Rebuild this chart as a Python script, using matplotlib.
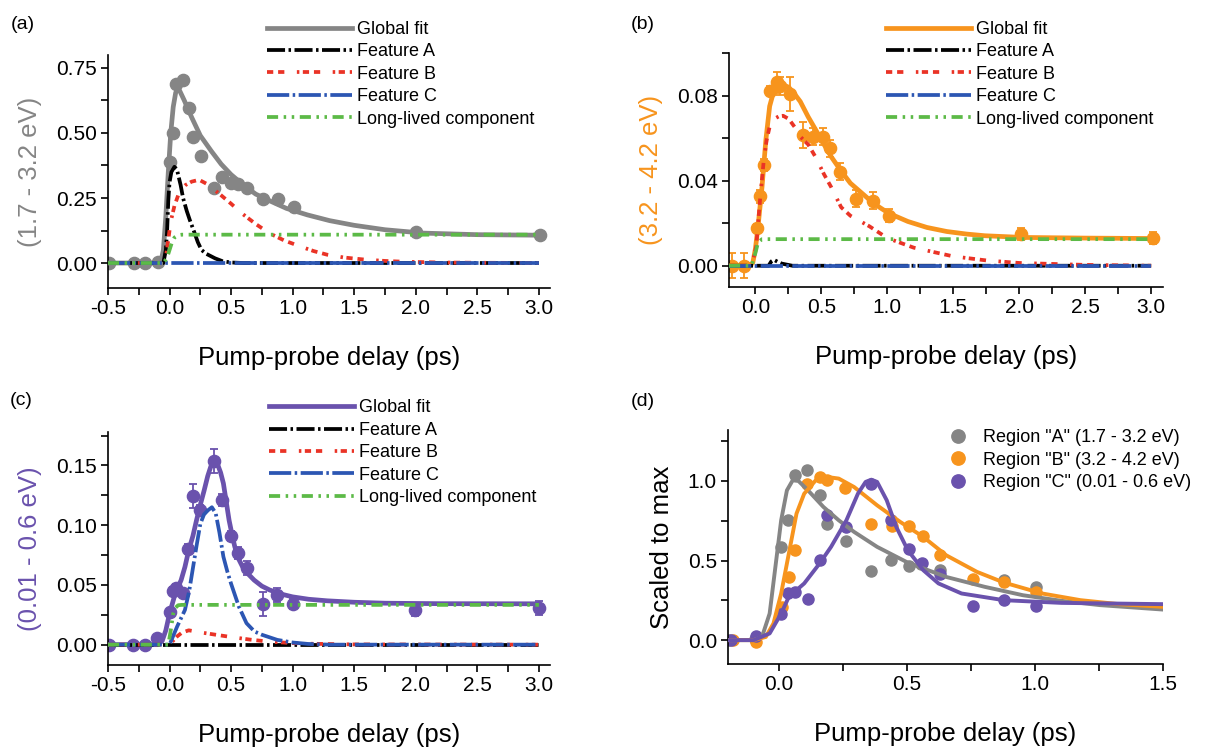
import matplotlib
matplotlib.use("Agg")
import matplotlib.pyplot as plt
from matplotlib.ticker import MultipleLocator, FormatStrFormatter

plt.rcParams["font.family"] = ["Liberation Sans", "DejaVu Sans"]
plt.rcParams["lines.scale_dashes"] = False

GRAY = "#858585"
ORANGE = "#f7941d"
PURPLE = "#6a52ad"
RED = "#ea3326"
BLUE = "#2c56b3"
GREEN = "#5cba47"

# ---------------- panel (a): 1.7 - 3.2 eV ----------------
a_pts_x = [-0.49, -0.29, -0.196, -0.093, 0.004, 0.03, 0.05, 0.11, 0.155, 0.19, 0.255,
           0.36, 0.43, 0.50, 0.556, 0.63, 0.76, 0.88, 1.01, 2.0, 3.01]
a_pts_y = [0.0, 0.0, 0.0, 0.004, 0.387, 0.50, 0.687, 0.705, 0.597, 0.485, 0.413,
           0.287, 0.332, 0.307, 0.304, 0.287, 0.245, 0.247, 0.215, 0.118, 0.107]

a_fit_x = [-0.5, -0.1, -0.07, -0.05, -0.03, -0.01, 0.01, 0.03, 0.05, 0.065, 0.08, 0.12, 0.18,
           0.25, 0.34, 0.42, 0.5, 0.6, 0.7, 0.81, 0.95, 1.12, 1.3, 1.5, 1.75, 2.06, 2.5, 3.0]
a_fit_y = [0.0, 0.0, 0.005, 0.05, 0.18, 0.35, 0.50, 0.60, 0.655, 0.67, 0.665, 0.625, 0.56,
           0.49, 0.43, 0.38, 0.34, 0.30, 0.265, 0.24, 0.21, 0.185, 0.163, 0.145, 0.128, 0.115, 0.109, 0.107]

a_A_x = [-0.5, -0.05, -0.03, -0.02, -0.01, 0.0, 0.015, 0.04, 0.06, 0.09, 0.11, 0.14, 0.165,
         0.2, 0.23, 0.26, 0.3, 0.37, 0.43, 0.5, 0.6, 3.0]
a_A_y = [0.0, 0.0, 0.05, 0.12, 0.24, 0.31, 0.35, 0.37, 0.36, 0.30, 0.25, 0.20, 0.165,
         0.12, 0.08, 0.05, 0.035, 0.018, 0.007, 0.002, 0.0, 0.0]

a_B_x = [-0.5, -0.05, -0.03, -0.01, 0.01, 0.04, 0.085, 0.13, 0.18, 0.24, 0.3, 0.4, 0.5, 0.59,
         0.7, 0.81, 0.93, 1.06, 1.17, 1.28, 1.42, 1.59, 1.75, 1.9, 2.2, 2.5, 3.0]
a_B_y = [0.0, 0.0, 0.02, 0.09, 0.16, 0.22, 0.28, 0.30, 0.313, 0.32, 0.305, 0.268, 0.228, 0.19,
         0.15, 0.115, 0.087, 0.064, 0.046, 0.032, 0.021, 0.013, 0.008, 0.005, 0.002, 0.001, 0.0]

a_C_x = [-0.5, 3.0]
a_C_y = [0.0, 0.0]

a_L_x = [-0.5, -0.05, -0.02, 0.0, 0.02, 0.04, 0.07, 0.1, 3.0]
a_L_y = [0.0, 0.0, 0.02, 0.05, 0.08, 0.098, 0.107, 0.109, 0.109]

# ---------------- panel (b): 3.2 - 4.2 eV ----------------
b_pts_x = [-0.18, -0.09, 0.015, 0.038, 0.064, 0.108, 0.16, 0.19, 0.262, 0.36, 0.44,
           0.515, 0.565, 0.64, 0.763, 0.888, 1.01, 2.016, 3.01]
b_pts_y = [0.0, 0.0, 0.0177, 0.0326, 0.0474, 0.0823, 0.0863, 0.0845, 0.0808, 0.0615, 0.0607,
           0.0607, 0.0553, 0.0443, 0.0315, 0.0305, 0.0235, 0.0149, 0.013]
b_pts_err = [0.006, 0.006, 0.002, 0.003, 0.003, 0.002, 0.005, 0.004, 0.008, 0.006, 0.004,
             0.004, 0.004, 0.004, 0.004, 0.004, 0.003, 0.003, 0.003]

b_fit_x = [-0.2, -0.05, -0.02, 0.0, 0.02, 0.05, 0.079, 0.108, 0.13, 0.15, 0.195, 0.253, 0.3,
           0.34, 0.4, 0.457, 0.52, 0.574, 0.65, 0.72, 0.8, 0.865, 0.94, 1.01, 1.156, 1.3,
           1.45, 1.6, 1.74, 2.03, 2.5, 3.0]
b_fit_y = [0.0, 0.0, 0.0013, 0.008, 0.0185, 0.037, 0.059, 0.075, 0.080, 0.0834, 0.0855, 0.0839,
           0.0805, 0.0772, 0.070, 0.0639, 0.057, 0.0513, 0.0445, 0.0388, 0.0345, 0.031, 0.0275,
           0.0247, 0.0208, 0.018, 0.0161, 0.0149, 0.0141, 0.0133, 0.013, 0.0128]

b_A_x = [-0.2, 0.1, 0.12, 0.14, 0.17, 0.2, 0.28, 3.0]
b_A_y = [0.0, 0.0, 0.002, 0.0028, 0.0018, 0.001, 0.0, 0.0]

b_B_x = [-0.2, -0.05, -0.02, 0.006, 0.035, 0.064, 0.085, 0.108, 0.14, 0.18, 0.21, 0.253, 0.3,
         0.34, 0.4, 0.457, 0.52, 0.574, 0.65, 0.72, 0.865, 1.0, 1.2, 1.5, 1.75, 2.0, 2.5, 3.0]
b_B_y = [0.0, 0.0, 0.002, 0.009, 0.031, 0.05, 0.059, 0.0654, 0.069, 0.0703, 0.0705, 0.069, 0.065,
         0.0607, 0.057, 0.051, 0.043, 0.037, 0.0275, 0.0235, 0.0185, 0.013, 0.0085, 0.0044,
         0.0025, 0.0013, 0.0004, 0.0]

b_C_x = [-0.2, 3.0]
b_C_y = [0.0, 0.0]

b_L_x = [-0.2, -0.03, 0.0, 0.02, 0.05, 3.0]
b_L_y = [0.0, 0.0, 0.006, 0.011, 0.0125, 0.0125]

# ---------------- panel (c): 0.01 - 0.6 eV ----------------
c_pts_x = [-0.49, -0.297, -0.197, -0.1, 0.0, 0.025, 0.056, 0.11, 0.15, 0.1875, 0.25, 0.36,
           0.428, 0.5, 0.556, 0.63, 0.756, 0.875, 1.0, 1.99, 3.0]
c_pts_y = [0.0, 0.0, 0.0, 0.0056, 0.027, 0.0453, 0.047, 0.043, 0.080, 0.1244, 0.1125, 0.154,
           0.121, 0.091, 0.0764, 0.0639, 0.0339, 0.0417, 0.0339, 0.0292, 0.0306]
c_pts_err = [0.0, 0.0, 0.0, 0.002, 0.002, 0.003, 0.004, 0.003, 0.004, 0.010, 0.004, 0.010,
             0.005, 0.004, 0.005, 0.006, 0.010, 0.006, 0.004, 0.005, 0.006]

c_fit_x = [-0.5, -0.1, -0.06, -0.03, 0.0, 0.047, 0.094, 0.125, 0.156, 0.19, 0.219, 0.25, 0.281,
           0.31, 0.335, 0.36, 0.39, 0.415, 0.4375, 0.46, 0.484, 0.51, 0.53, 0.56, 0.594, 0.64,
           0.6875, 0.75, 0.8125, 0.9, 1.0, 1.13, 1.28, 1.5, 1.75, 2.2, 3.0]
c_fit_y = [0.0, 0.0, 0.003, 0.012, 0.026, 0.043, 0.054, 0.065, 0.079, 0.091, 0.104, 0.117, 0.129,
           0.141, 0.149, 0.153, 0.151, 0.144, 0.135, 0.120, 0.104, 0.091, 0.082, 0.072, 0.065,
           0.059, 0.054, 0.049, 0.0458, 0.0425, 0.040, 0.038, 0.0367, 0.0355, 0.0347, 0.0343, 0.0342]

c_A_x = [-0.5, 3.0]
c_A_y = [0.0, 0.0]

c_B_x = [-0.5, 0.0, 0.0625, 0.1, 0.156, 0.25, 0.375, 0.5, 0.656, 0.81, 1.0, 1.125, 1.5, 3.0]
c_B_y = [0.0, 0.0, 0.007, 0.010, 0.012, 0.0103, 0.0083, 0.0064, 0.0042, 0.0025, 0.0013, 0.0008,
         0.0002, 0.0]

c_C_x = [-0.5, 0.0, 0.0625, 0.125, 0.16, 0.1875, 0.22, 0.25, 0.28, 0.3125, 0.344, 0.375, 0.405,
         0.4375, 0.47, 0.5, 0.5625, 0.625, 0.69, 0.75, 0.875, 1.0, 1.125, 1.3, 3.0]
c_C_y = [0.0, 0.0, 0.0153, 0.029, 0.045, 0.0625, 0.083, 0.101, 0.109, 0.1125, 0.115, 0.11, 0.094,
         0.0736, 0.061, 0.051, 0.032, 0.018, 0.011, 0.0083, 0.004, 0.0018, 0.0006, 0.0, 0.0]

c_L_x = [-0.5, -0.01, 0.01, 0.03, 0.05, 0.07, 0.1, 3.0]
c_L_y = [0.0, 0.0, 0.012, 0.026, 0.031, 0.033, 0.0333, 0.0333]

# ---------------- panel (d): scaled to max ----------------
dA_x = [-0.196, -0.093, 0.0075, 0.0345, 0.06, 0.11, 0.16, 0.1875, 0.2625, 0.36, 0.435,
        0.507, 0.555, 0.63, 0.88, 1.005]
dA_y = [0.0, 0.005, 0.586, 0.753, 1.036, 1.071, 0.91, 0.732, 0.623, 0.433, 0.502,
        0.467, 0.481, 0.443, 0.377, 0.335]
dB_x = [-0.18, -0.09, 0.0105, 0.0375, 0.063, 0.108, 0.16, 0.1875, 0.258, 0.36, 0.44,
        0.507, 0.5625, 0.63, 0.7575, 0.88, 1.005]
dB_y = [0.0, -0.01, 0.209, 0.397, 0.565, 0.983, 1.025, 1.004, 0.958, 0.728, 0.714,
        0.717, 0.655, 0.533, 0.381, 0.366, 0.303]
dC_x = [-0.19, -0.09, 0.0075, 0.0345, 0.06, 0.1125, 0.16, 0.1875, 0.2625, 0.36, 0.435,
        0.507, 0.558, 0.63, 0.7575, 0.88, 1.005]
dC_y = [0.0, 0.025, 0.167, 0.293, 0.303, 0.2615, 0.502, 0.785, 0.711, 0.979, 0.757,
        0.575, 0.485, 0.415, 0.2155, 0.251, 0.213]

dA_fit_x = [-0.2, -0.1, -0.0675, -0.0375, -0.015, 0.0075, 0.03, 0.0525, 0.075, 0.1125, 0.1725,
            0.2325, 0.2925, 0.3825, 0.5025, 0.6525, 0.8025, 0.9525, 1.1025, 1.2525, 1.5]
dA_fit_y = [0.0, 0.0, 0.02, 0.167, 0.46, 0.753, 0.941, 1.004, 1.0, 0.941, 0.837,
            0.753, 0.68, 0.586, 0.487, 0.397, 0.335, 0.282, 0.247, 0.22, 0.192]
dB_fit_x = [-0.2, -0.1, -0.0525, -0.0225, 0.0075, 0.0375, 0.0675, 0.0975, 0.1425, 0.1875, 0.2325,
            0.2925, 0.3825, 0.4725, 0.5625, 0.6525, 0.7725, 0.8775, 1.0275, 1.1775, 1.3275, 1.5]
dB_fit_y = [0.0, 0.0, 0.02, 0.105, 0.293, 0.544, 0.795, 0.92, 1.004, 1.025, 1.015,
            0.962, 0.847, 0.743, 0.649, 0.533, 0.429, 0.362, 0.293, 0.251, 0.226, 0.209]
dC_fit_x = [-0.2, -0.1, -0.0375, 0.0075, 0.0375, 0.0975, 0.1575, 0.2025, 0.2625, 0.3075, 0.3375,
            0.36, 0.3825, 0.42, 0.4575, 0.5025, 0.5625, 0.6225, 0.7125, 0.8775, 1.1025, 1.5]
dC_fit_y = [0.0, 0.0, 0.042, 0.167, 0.272, 0.356, 0.481, 0.586, 0.753, 0.92, 0.994,
            1.008, 0.994, 0.879, 0.711, 0.565, 0.44, 0.356, 0.293, 0.251, 0.234, 0.226]

# line styles (dash lengths in points)
STY_A = dict(color="black", lw=2.7, dashes=(13, 2.5, 1.8, 2.5))
STY_B = dict(color=RED, lw=2.7, dashes=(4.5, 3.5, 4.5, 9, 1.8, 2.5))
STY_C = dict(color=BLUE, lw=2.7, dashes=(16, 2.5, 1.8, 2.5))
STY_L = dict(color=GREEN, lw=2.7, dashes=(8, 4, 1.8, 4, 1.8, 4))

TICK_FS = 15
LABEL_FS = 18.5
LEG_FS = 13

fig = plt.figure(figsize=(12.09, 7.48), dpi=100)


def style_axes(ax, xmaj, ymaj, yfmt):
    for s in ("top", "right"):
        ax.spines[s].set_visible(False)
    ax.spines["left"].set_linewidth(1.2)
    ax.spines["bottom"].set_linewidth(1.2)
    ax.xaxis.set_major_locator(MultipleLocator(xmaj))
    ax.xaxis.set_minor_locator(MultipleLocator(xmaj / 2))
    ax.yaxis.set_major_locator(MultipleLocator(ymaj))
    ax.yaxis.set_minor_locator(MultipleLocator(ymaj / 2))
    ax.xaxis.set_major_formatter(FormatStrFormatter("%.1f"))
    ax.yaxis.set_major_formatter(FormatStrFormatter(yfmt))
    ax.tick_params(which="both", direction="out", length=5, width=1.2,
                   labelsize=TICK_FS, pad=3)
    ax.set_xlabel("Pump-probe delay (ps)", fontsize=LABEL_FS, labelpad=20)


def component_panel(ax, pts_x, pts_y, err, fit_x, fit_y, col, comps, xlim, ylim,
                    ymaj, yfmt, ylabel, leg_anchor):
    if err is None:
        ax.plot(pts_x, pts_y, "o", color=col, ms=8.8, mec=col, zorder=2)
    else:
        ax.errorbar(pts_x, pts_y, yerr=err, fmt="o", color=col, ms=8.8, mec=col,
                    elinewidth=1.3, capsize=3, capthick=1.3, zorder=2)
    ax.plot(fit_x, fit_y, color=col, lw=3.4, label="Global fit", zorder=3)
    names = ["Feature A", "Feature B", "Feature C", "Long-lived component"]
    styles = [STY_A, STY_B, STY_C, STY_L]
    for (cx, cy), name, st in zip(comps, names, styles):
        ax.plot(cx, cy, label=name, zorder=4, **st)
    ax.set_xlim(*xlim)
    ax.set_ylim(*ylim)
    style_axes(ax, 0.5, ymaj, yfmt)
    ax.set_ylabel(ylabel, color=col, fontsize=LABEL_FS, labelpad=10)
    ax.legend(loc="upper left", bbox_to_anchor=leg_anchor, bbox_transform=fig.transFigure,
              frameon=False, fontsize=LEG_FS, handlelength=4.7, handletextpad=0.3,
              labelspacing=0.3, borderpad=0, borderaxespad=0)


ax_a = fig.add_axes([0.0893, 0.615, 0.3656, 0.3115])
component_panel(ax_a, a_pts_x, a_pts_y, None, a_fit_x, a_fit_y, GRAY,
                [(a_A_x, a_A_y), (a_B_x, a_B_y), (a_C_x, a_C_y), (a_L_x, a_L_y)],
                (-0.5, 3.09), (-0.096, 0.80), 0.25, "%.2f", "(1.7 - 3.2 eV)",
                (0.221, 0.972))

ax_b = fig.add_axes([0.603, 0.6163, 0.359, 0.3128])
component_panel(ax_b, b_pts_x, b_pts_y, b_pts_err, b_fit_x, b_fit_y, ORANGE,
                [(b_A_x, b_A_y), (b_B_x, b_B_y), (b_C_x, b_C_y), (b_L_x, b_L_y)],
                (-0.2, 3.09), (-0.010, 0.100), 0.04, "%.2f", "(3.2 - 4.2 eV)",
                (0.733, 0.972))

ax_c = fig.add_axes([0.0893, 0.111, 0.3656, 0.3115])
component_panel(ax_c, c_pts_x, c_pts_y, c_pts_err, c_fit_x, c_fit_y, PURPLE,
                [(c_A_x, c_A_y), (c_B_x, c_B_y), (c_C_x, c_C_y), (c_L_x, c_L_y)],
                (-0.5, 3.09), (-0.017, 0.178), 0.05, "%.2f", "(0.01 - 0.6 eV)",
                (0.2225, 0.466))

ax_d = fig.add_axes([0.6022, 0.1123, 0.3598, 0.3128])
ax_d.plot(dA_fit_x, dA_fit_y, color=GRAY, lw=2.8, zorder=3)
ax_d.plot(dB_fit_x, dB_fit_y, color=ORANGE, lw=2.8, zorder=3)
ax_d.plot(dC_fit_x, dC_fit_y, color=PURPLE, lw=2.8, zorder=3)
ax_d.plot(dA_x, dA_y, "o", color=GRAY, ms=8, label='Region "A" (1.7 - 3.2 eV)', zorder=2)
ax_d.plot(dB_x, dB_y, "o", color=ORANGE, ms=8, label='Region "B" (3.2 - 4.2 eV)', zorder=2)
ax_d.plot(dC_x, dC_y, "o", color=PURPLE, ms=8, label='Region "C" (0.01 - 0.6 eV)', zorder=2)
ax_d.set_xlim(-0.2, 1.5)
ax_d.set_ylim(-0.15, 1.32)
style_axes(ax_d, 0.5, 0.5, "%.1f")
ax_d.set_ylabel("Scaled to max", fontsize=LABEL_FS, labelpad=10)
ax_d.legend(loc="upper left", bbox_to_anchor=(0.785, 0.426), bbox_transform=fig.transFigure,
            frameon=False, fontsize=LEG_FS, handlelength=1.0, handletextpad=0.9,
            labelspacing=0.3, borderpad=0, borderaxespad=0, markerscale=1.2)

for lbl, x, y in [("(a)", 0.009, 0.978), ("(b)", 0.522, 0.978),
                  ("(c)", 0.008, 0.476), ("(d)", 0.522, 0.474)]:
    fig.text(x, y, lbl, fontsize=14, ha="left", va="top")

fig.savefig("out.png", dpi=100)
